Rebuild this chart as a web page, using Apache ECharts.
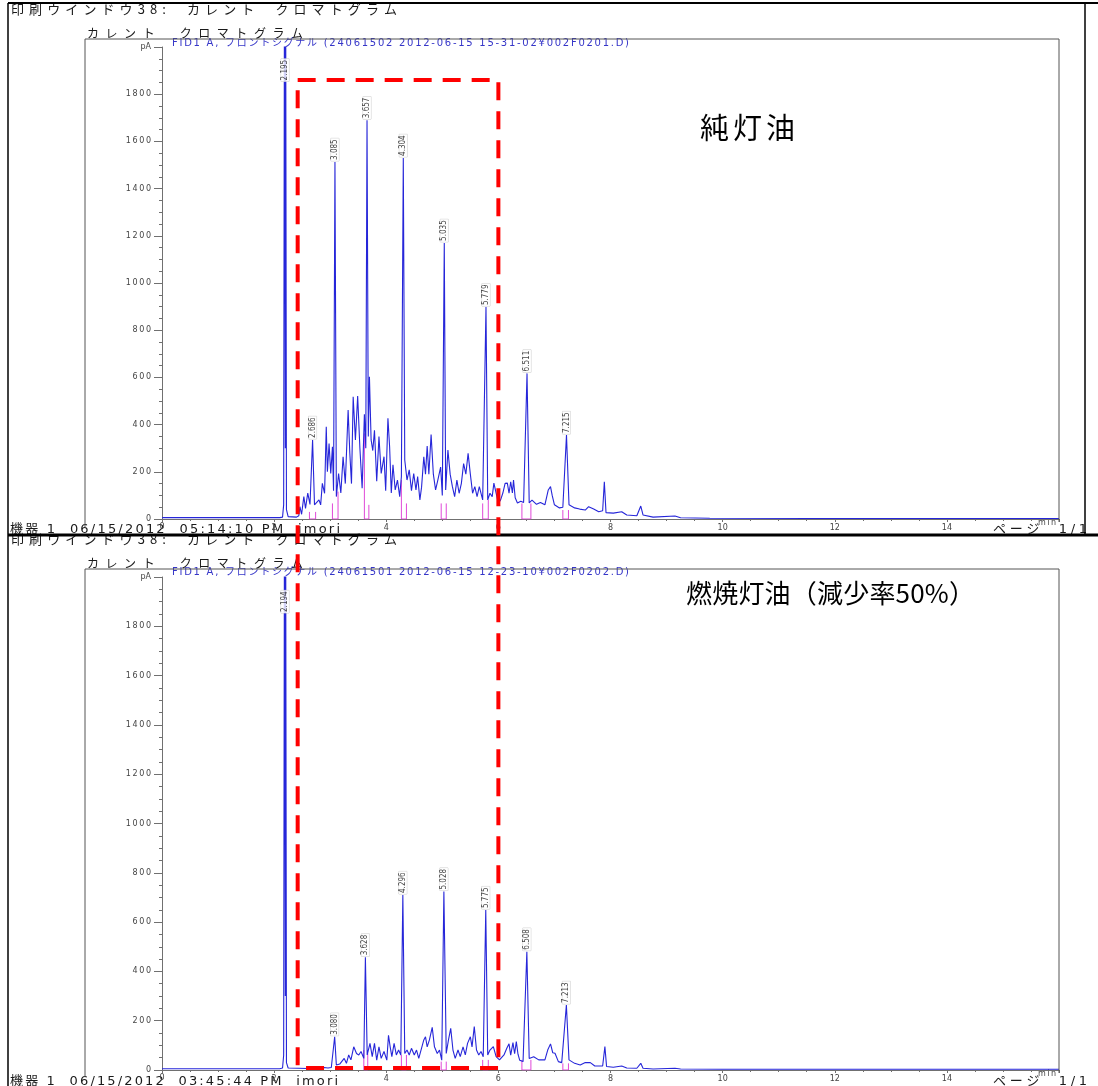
<!DOCTYPE html>
<html>
<head>
<meta charset="utf-8">
<script src="https://cdn.jsdelivr.net/npm/echarts/dist/echarts.min.js"></script>
<style>
  html, body { margin: 0; padding: 0; background: #fff; }
  #chart { width: 1098px; height: 1086px; }
</style>
</head>
<body>
<div id="chart"></div>
<script>
// 純灯油 chromatogram [min, pA]
var topTrace = [
  [0, 6], [2.10, 6], [2.15, 8], [2.17, 60], [2.185, 2400], [2.20, 300], [2.205, 2400], [2.22, 40], [2.25, 10],
  [2.40, 8], [2.44, 14], [2.46, 52], [2.49, 20], [2.53, 95], [2.56, 45], [2.60, 110], [2.64, 62], [2.686, 335],
  [2.72, 60], [2.75, 52], [2.80, 81], [2.83, 60], [2.86, 151], [2.90, 109], [2.93, 391], [2.95, 200], [2.98, 320],
  [3.01, 193], [3.04, 306], [3.06, 120], [3.085, 1513], [3.11, 95], [3.15, 193], [3.19, 110], [3.23, 264],
  [3.27, 150], [3.32, 462], [3.35, 280], [3.38, 150], [3.41, 518], [3.45, 335], [3.49, 521], [3.53, 300],
  [3.57, 130], [3.61, 444], [3.635, 300], [3.657, 1690], [3.68, 350], [3.70, 603], [3.73, 335], [3.76, 290],
  [3.79, 376], [3.83, 160], [3.87, 349], [3.91, 193], [3.96, 264], [3.99, 120], [4.03, 427], [4.06, 306],
  [4.09, 110], [4.12, 230], [4.16, 123], [4.20, 165], [4.24, 95], [4.27, 180], [4.304, 1530], [4.33, 250],
  [4.37, 165], [4.41, 208], [4.45, 120], [4.49, 193], [4.53, 123], [4.56, 180], [4.60, 81], [4.63, 135],
  [4.67, 264], [4.70, 190], [4.73, 309], [4.76, 190], [4.80, 358], [4.84, 190], [4.88, 123], [4.92, 165],
  [4.97, 220], [5.00, 100], [5.035, 1170], [5.06, 123], [5.10, 292], [5.14, 190], [5.18, 137], [5.22, 95],
  [5.26, 165], [5.30, 109], [5.34, 151], [5.38, 235], [5.42, 190], [5.46, 278], [5.50, 190], [5.54, 109],
  [5.58, 137], [5.62, 95], [5.66, 137], [5.72, 81], [5.779, 898], [5.81, 81], [5.85, 109], [5.89, 95],
  [5.92, 152], [5.96, 110], [6.00, 66], [6.04, 81], [6.08, 110], [6.12, 151], [6.16, 152], [6.19, 109],
  [6.22, 158], [6.25, 110], [6.27, 165], [6.30, 90], [6.34, 68], [6.40, 75], [6.45, 70], [6.511, 617],
  [6.55, 68], [6.60, 80], [6.68, 62], [6.75, 70], [6.83, 60], [6.89, 123], [6.93, 137], [6.96, 100],
  [7.00, 60], [7.09, 47], [7.15, 50], [7.215, 356], [7.26, 60], [7.36, 47], [7.45, 42], [7.55, 38],
  [7.61, 52], [7.70, 42], [7.79, 31], [7.86, 35], [7.89, 158], [7.92, 27], [8.05, 25], [8.20, 31],
  [8.29, 17], [8.47, 14], [8.54, 55], [8.58, 17], [8.76, 8], [9.15, 13], [9.25, 5], [9.77, 3], [11.6, 2], [16, 2]
];

// 燃焼灯油 chromatogram [min, pA]
var bottomTrace = [
  [0, 5], [2.10, 5], [2.15, 8], [2.17, 60], [2.185, 2400], [2.20, 300], [2.205, 2400], [2.22, 30], [2.25, 8],
  [2.60, 6], [2.80, 8], [2.89, 10], [2.92, 16], [2.96, 8], [3.02, 10], [3.08, 135], [3.11, 20], [3.17, 24],
  [3.25, 47], [3.29, 27], [3.33, 61], [3.37, 41], [3.42, 94], [3.47, 67], [3.51, 61], [3.55, 75], [3.60, 47],
  [3.628, 457], [3.66, 61], [3.71, 108], [3.75, 54], [3.79, 108], [3.83, 40], [3.87, 94], [3.91, 47],
  [3.96, 75], [4.01, 40], [4.04, 141], [4.07, 94], [4.10, 54], [4.14, 108], [4.18, 61], [4.22, 81],
  [4.26, 61], [4.296, 710], [4.33, 67], [4.37, 81], [4.41, 61], [4.45, 88], [4.50, 61], [4.54, 81],
  [4.58, 47], [4.67, 122], [4.70, 135], [4.73, 94], [4.77, 122], [4.82, 173], [4.86, 94], [4.91, 67],
  [4.95, 81], [4.99, 40], [5.028, 724], [5.07, 67], [5.11, 122], [5.15, 169], [5.19, 81], [5.23, 47],
  [5.28, 81], [5.32, 54], [5.37, 94], [5.41, 61], [5.45, 108], [5.50, 135], [5.53, 94], [5.57, 176],
  [5.61, 81], [5.65, 61], [5.69, 75], [5.73, 54], [5.775, 649], [5.81, 61], [5.85, 81], [5.91, 95],
  [5.96, 54], [6.02, 41], [6.10, 61], [6.15, 88], [6.19, 106], [6.22, 60], [6.26, 111], [6.29, 66],
  [6.32, 115], [6.35, 64], [6.38, 40], [6.44, 34], [6.508, 480], [6.55, 47], [6.63, 54], [6.72, 41],
  [6.83, 41], [6.88, 81], [6.93, 106], [6.97, 70], [7.01, 68], [7.07, 34], [7.13, 30], [7.213, 264],
  [7.26, 41], [7.36, 27], [7.46, 20], [7.55, 30], [7.64, 30], [7.72, 16], [7.86, 16], [7.90, 95],
  [7.93, 14], [8.05, 11], [8.20, 16], [8.29, 8], [8.47, 7], [8.54, 27], [8.58, 7], [8.76, 4], [9.15, 7],
  [9.25, 4], [10, 3], [16, 3]
];

// 保持時間ラベル
var topPeakNames = ['2.195', '2.686', '3.085', '3.657', '4.304', '5.035', '5.779', '6.511', '7.215'];
var topPeakTimes = [2.195, 2.686, 3.085, 3.657, 4.304, 5.035, 5.779, 6.511, 7.215];
var topPeakHeights = [2400, 335, 1513, 1690, 1530, 1170, 898, 617, 356];

var bottomPeakNames = ['2.194', '3.080', '3.628', '4.296', '5.028', '5.775', '6.508', '7.213'];
var bottomPeakTimes = [2.194, 3.080, 3.628, 4.296, 5.028, 5.775, 6.508, 7.213];
var bottomPeakHeights = [2400, 135, 457, 710, 724, 649, 480, 264];

// 積分区間 [start, end, signal at start, signal at end]
var topMarks = [[2.63, 2.74, 30, 30], [3.04, 3.14, 66, 116], [3.61, 3.69, 363, 60], [4.27, 4.36, 165, 66],
  [4.98, 5.07, 66, 66], [5.72, 5.82, 66, 81], [6.42, 6.58, 66, 66], [7.15, 7.25, 38, 38]];
var bottomMarks = [[3.60, 3.67, 81, 67], [4.27, 4.36, 61, 61], [4.98, 5.07, 34, 34], [5.72, 5.82, 41, 41],
  [6.42, 6.58, 41, 41], [7.15, 7.25, 27, 27]];

var xTicks = [0, 2, 4, 6, 8, 10, 12, 14];
var yTicks = [0, 200, 400, 600, 800, 1000, 1200, 1400, 1600, 1800];

// 点線枠 (min, pA)
var boxTimes = [2.42, 6.0];
var boxTopValue = 1860;

var chart = echarts.init(document.getElementById('chart'));

var blue = '#2626d9';
var pink = '#e048d8';
var axisGray = '#707070';
var labelFont = '"DejaVu Sans Condensed", "Liberation Sans Narrow", "Liberation Sans", sans-serif';
var jpFont = '"Noto Sans CJK JP", sans-serif';
var mixFont = '"DejaVu Sans", "Noto Sans CJK JP", sans-serif';

function thin(s) { return String(s).split('').join('\u2009'); }

function xAxisFor(i) {
  return {
    gridIndex: i, type: 'value', min: 0, max: 16, interval: 2,
    axisLine: { show: true, onZero: false, lineStyle: { color: axisGray, width: 1 } },
    axisTick: { show: true, length: 3, lineStyle: { color: axisGray } },
    minorTick: { show: true, splitNumber: 4, length: 2, lineStyle: { color: axisGray } },
    splitLine: { show: false },
    axisLabel: {
      fontSize: 8, color: '#444', margin: 5, fontFamily: 'DejaVu Sans',
      formatter: function (v) { return (v > 0 && xTicks.indexOf(v) >= 0) ? String(v) : ''; }
    }
  };
}
function yAxisFor(i) {
  return {
    gridIndex: i, type: 'value', min: 0, max: 2000, interval: 200,
    axisLine: { show: true, lineStyle: { color: axisGray, width: 1 } },
    axisTick: { show: true, length: 8, lineStyle: { color: axisGray } },
    minorTick: { show: true, splitNumber: 4, length: 3, lineStyle: { color: axisGray } },
    splitLine: { show: false },
    axisLabel: {
      fontSize: 8, color: '#444', margin: 11, fontFamily: 'DejaVu Sans', showMaxLabel: true,
      formatter: function (v) { return yTicks.indexOf(v) >= 0 ? thin(v) : (v === 2000 ? 'pA' : ''); }
    }
  };
}

function traceSeries(i, data) {
  return {
    type: 'line', xAxisIndex: i, yAxisIndex: i, data: data, showSymbol: false, symbol: 'none',
    sampling: null, clip: true, z: 3, animation: false,
    lineStyle: { color: blue, width: 1.1 }
  };
}
function labelSeries(i, times, heights, names) {
  var pts = times.map(function (t, k) { return [t, Math.min(heights[k], 1850)]; });
  return {
    type: 'scatter', xAxisIndex: i, yAxisIndex: i, data: pts, symbolSize: 0, z: 4, animation: false,
    label: {
      show: true, position: 'top', rotate: 90, align: 'left', verticalAlign: 'middle', distance: 1,
      fontSize: 8, color: '#111', fontFamily: labelFont, backgroundColor: '#fff', padding: [0, 1],
      borderColor: '#c8c8c8', borderWidth: 0.5,
      formatter: function (p) { return names[p.dataIndex]; }
    }
  };
}
function markSeries(i, marks) {
  return marks.map(function (m) {
    return {
      type: 'line', xAxisIndex: i, yAxisIndex: i, showSymbol: false, symbol: 'none', z: 2, animation: false,
      data: [[m[0], m[2]], [m[0], 0], [m[1], 0], [m[1], m[3]]],
      lineStyle: { color: pink, width: 1 }
    };
  });
}

// 文字間隔を広げたテキスト（印刷書式の再現）
var measureCtx = document.createElement('canvas').getContext('2d');
function spaced(x, y, s, size, width, extra) {
  var st = Object.assign({ fill: '#1a1a1a', fontFamily: jpFont }, extra || {});
  measureCtx.font = size + 'px ' + st.fontFamily;
  var chars = Array.from(s);
  var widths = chars.map(function (c) { return measureCtx.measureText(c).width; });
  var total = widths.reduce(function (a, b) { return a + b; }, 0);
  var gap = chars.length > 1 ? Math.max(0, (width - total) / (chars.length - 1)) : 0;
  var cx = 0;
  var children = chars.map(function (c, k) {
    var el = { type: 'text', x: cx, y: 0, style: { text: c, fontSize: size, fill: st.fill, fontFamily: st.fontFamily, verticalAlign: 'middle' } };
    cx += widths[k] + gap;
    return el;
  });
  return { type: 'group', x: x, y: y, children: children, z: 20 };
}
function line(x1, y1, x2, y2, w, c) {
  return { type: 'line', shape: { x1: x1, y1: y1, x2: x2, y2: y2 }, style: { stroke: c || '#000', lineWidth: w || 1 }, z: 15 };
}

var pageGraphics = [
  line(8, 3, 1098, 3, 2),
  line(8, 3, 8, 1086, 1.5),
  line(1085, 3, 1085, 535, 1.5),
  // top panel frame
  line(85, 39, 1059, 39, 1, '#555'),
  line(85, 39, 85, 527, 1, '#555'),
  line(1059, 39, 1059, 522, 1, '#555'),
  // bottom panel frame
  line(85, 569, 1059, 569, 1, '#555'),
  line(85, 569, 85, 1077, 1, '#555'),
  line(1059, 569, 1059, 1073, 1, '#555'),
  spaced(11, 9, '印刷ウインドウ38:  カレント  クロマトグラム', 13, 386),
  spaced(87, 33, 'カレント  クロマトグラム', 12, 216),
  spaced(172, 43, 'FID1 A, フロントシグナル (24061502 2012-06-15 15-31-02¥002F0201.D)', 10, 457, { fill: '#3535c8', fontFamily: mixFont }),
  spaced(1038, 523, 'min', 8, 18, { fill: '#444', fontFamily: 'DejaVu Sans' }),
  spaced(10, 530, '機器 1  06/15/2012  05:14:10 PM  imori', 13, 330, { fontFamily: mixFont }),
  spaced(993, 530, 'ページ  1/1', 13, 94, { fontFamily: mixFont }),
  spaced(11, 539, '印刷ウインドウ38:  カレント  クロマトグラム', 13, 386),
  line(8, 535, 1098, 535, 3),
  spaced(87, 563, 'カレント  クロマトグラム', 12, 216),
  spaced(172, 572, 'FID1 A, フロントシグナル (24061501 2012-06-15 12-23-10¥002F0202.D)', 10, 457, { fill: '#3535c8', fontFamily: mixFont }),
  spaced(1038, 1074, 'min', 8, 18, { fill: '#444', fontFamily: 'DejaVu Sans' }),
  spaced(10, 1082, '機器 1  06/15/2012  03:45:44 PM  imori', 13, 328, { fontFamily: mixFont }),
  spaced(993, 1082, 'ページ  1/1', 13, 94, { fontFamily: mixFont }),
  spaced(700, 128, '純灯油', 29, 95, { fill: '#000' }),
  spaced(686, 593, '燃焼灯油（減少率50%）', 26, 289, { fill: '#000' })
];

var option = {
  backgroundColor: '#fff',
  animation: false,
  grid: [
    { left: 162, right: 39, top: 47, height: 472, outerBoundsMode: 'none' },
    { left: 162, right: 39, top: 577, height: 493, outerBoundsMode: 'none' }
  ],
  xAxis: [xAxisFor(0), xAxisFor(1)],
  yAxis: [yAxisFor(0), yAxisFor(1)],
  series: [].concat(
    markSeries(0, topMarks),
    markSeries(1, bottomMarks),
    [traceSeries(0, topTrace), traceSeries(1, bottomTrace),
     labelSeries(0, topPeakTimes, topPeakHeights, topPeakNames),
     labelSeries(1, bottomPeakTimes, bottomPeakHeights, bottomPeakNames)]
  ),
  graphic: pageGraphics
};
chart.setOption(option);

// x軸の "0" ラベル（y軸ラベルと重なって省略されるため個別に描く）
var zeroLabels = [0, 1].map(function (g) {
  var p = chart.convertToPixel({ gridIndex: g }, [xTicks[0], 0]);
  return { type: 'text', x: p[0], y: p[1] + 4, z: 21,
    style: { text: String(xTicks[0]), fontSize: 8, fill: '#444', fontFamily: 'DejaVu Sans', align: 'center', verticalAlign: 'top' } };
});

// 赤い点線枠: 上下両方のクロマトグラムにまたがる
var p1 = chart.convertToPixel({ gridIndex: 0 }, [boxTimes[0], boxTopValue]);
var p2 = chart.convertToPixel({ gridIndex: 1 }, [boxTimes[1], 0]);
var box = {
  type: 'rect', z: 30,
  shape: { x: p1[0], y: p1[1], width: p2[0] - p1[0], height: p2[1] - p1[1] - 2 },
  style: { fill: 'none', stroke: '#ff0000', lineWidth: 4, lineDash: [18, 11] }
};
chart.setOption({ graphic: pageGraphics.concat(zeroLabels, [box]) });
</script>
</body>
</html>
